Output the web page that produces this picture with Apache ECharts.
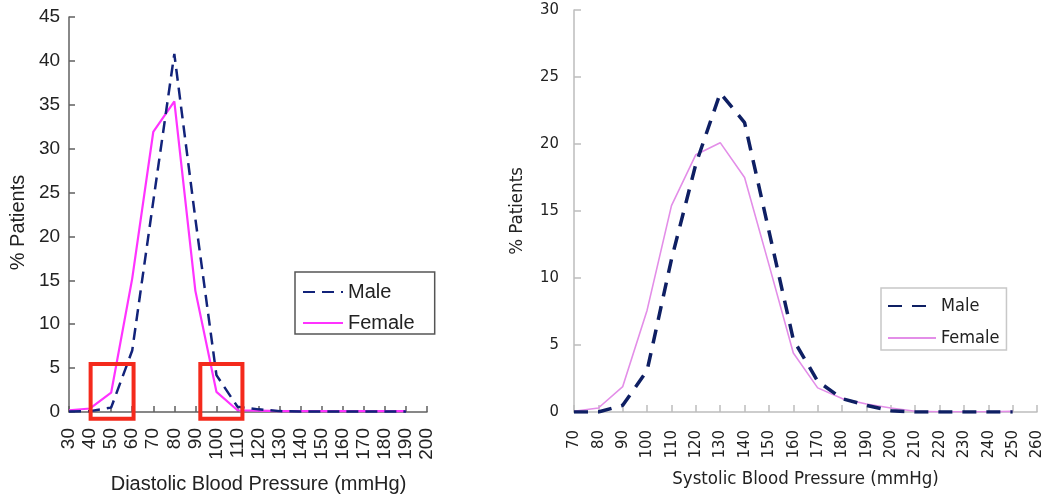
<!DOCTYPE html>
<html>
<head>
<meta charset="utf-8">
<script src="https://cdn.jsdelivr.net/npm/echarts@6/dist/echarts.min.js"></script>
<style>
html,body{margin:0;padding:0;background:#fff;}
#left{position:absolute;left:0;top:0;width:500px;height:499px;}
#right{position:absolute;left:500px;top:0;width:550px;height:499px;}
</style>
</head>
<body>
<div id="left"></div>
<div id="right"></div>
<script>
// ---- Diastolic (left) ----
const diaX = [30,40,50,60,70,80,90,100,110,120,130,140,150,160,170,180,190];
const diaMale = [0.05,0.1,0.5,7.0,24.0,40.8,22.0,4.2,0.6,0.3,0.1,0.05,0.05,0.05,0.05,0.05,0.05];
const diaFemale = [0.2,0.4,2.2,15.2,31.9,35.4,13.8,2.3,0.2,0.15,0.1,0.1,0.1,0.1,0.1,0.1,0.1];
const diaRedBoxes = [[39.3,61.6,-1.0,5.7],[91.4,113.3,-1.0,5.7]];

// ---- Systolic (right) ----
const sysX = [70,80,90,100,110,120,130,140,150,160,170,180,190,200,210,220,230,240,250];
const sysMale = [0,0,0.5,3.1,11.4,18.5,23.8,21.6,13.5,5.4,2.3,1.0,0.5,0.1,0,0,0,0,0];
const sysFemale = [0.05,0.3,1.9,7.6,15.4,19.2,20.1,17.5,11.0,4.4,1.8,1.0,0.6,0.3,0.05,0.02,0.02,0.02,0.05];

const seriesNames = ['Male','Female'];

function pairs(xs, ys){ return xs.map((x,i)=>[x, ys[i]]); }

const LF = '"Liberation Sans", Arial, sans-serif';
const RF = '"DejaVu Sans Condensed", "Liberation Sans Narrow", sans-serif';

// Left chart
const cl = echarts.init(document.getElementById('left'));
cl.setOption({
  animation:false,
  grid:{left:62, top:17, width:365, height:397},
  legend:{
    orient:'vertical', left:295, top:272,
    data:seriesNames,
    itemWidth:40, itemHeight:14, itemGap:11, itemTextGap:14,
    padding:[10,20,1,7],
    borderColor:'#555', borderWidth:1.5,
    itemStyle:{opacity:0},
    textStyle:{fontFamily:LF, fontSize:20, color:'#222'}
  },
  xAxis:{
    type:'value', min:30, max:200, interval:10,
    name:'Diastolic Blood Pressure (mmHg)', nameLocation:'middle', nameGap:62,
    nameTextStyle:{fontFamily:LF, fontSize:20, color:'#222', padding:[0,0,0,21]},
    axisLine:{lineStyle:{color:'#606060', width:1.5}},
    axisTick:{inside:true, length:6, lineStyle:{color:'#606060', width:1.5}},
    axisLabel:{rotate:90, margin:16, fontFamily:LF, fontSize:19, color:'#222'},
    splitLine:{show:false}
  },
  yAxis:{
    type:'value', min:0, max:45, interval:5,
    name:'% Patients', nameLocation:'middle', nameGap:40,
    nameTextStyle:{fontFamily:LF, fontSize:20, color:'#222', padding:[0,16,0,0]},
    axisLine:{show:true, lineStyle:{color:'#606060', width:1.5}},
    axisTick:{show:true, inside:true, length:6, lineStyle:{color:'#606060', width:1.5}},
    axisLabel:{margin:9, fontFamily:LF, fontSize:19, color:'#222'},
    splitLine:{show:false}
  },
  series:[
    {name:'Male', type:'line', data:pairs(diaX, diaMale), symbol:'none', z:3,
     lineStyle:{color:'#12237a', width:2.5, type:[12,7]}, itemStyle:{color:'#12237a'}},
    {name:'Female', type:'line', data:pairs(diaX, diaFemale), symbol:'none', z:2,
     lineStyle:{color:'#ff33ff', width:2.2}, itemStyle:{color:'#ff33ff'}}
  ]
});
const boxes = diaRedBoxes.map(b=>{
  const p1 = cl.convertToPixel({gridIndex:0},[b[0],b[3]]);
  const p2 = cl.convertToPixel({gridIndex:0},[b[1],b[2]]);
  return {type:'rect', z:10, silent:true,
    shape:{x:p1[0]+2, y:p1[1]+2, width:p2[0]-p1[0]-4, height:p2[1]-p1[1]-4},
    style:{fill:'none', stroke:'#f42a1c', lineWidth:4}};
});
cl.setOption({graphic:boxes});

// Right chart
const cr = echarts.init(document.getElementById('right'));
cr.setOption({
  animation:false,
  grid:{left:74, top:10, width:463, height:402},
  legend:{
    orient:'vertical', left:381, top:288,
    data:seriesNames,
    itemWidth:48, itemHeight:14, itemGap:14, itemTextGap:12,
    padding:[9,7,3,6],
    borderColor:'#c8c8c8', borderWidth:1.5,
    itemStyle:{opacity:0},
    textStyle:{fontFamily:RF, fontSize:18, color:'#222'}
  },
  xAxis:{
    type:'value', min:70, max:260, interval:10,
    name:'Systolic Blood Pressure (mmHg)', nameLocation:'middle', nameGap:58,
    nameTextStyle:{fontFamily:RF, fontSize:18.5, color:'#222'},
    axisLine:{lineStyle:{color:'#bdbdbd', width:1.5}},
    axisTick:{inside:true, length:7, lineStyle:{color:'#bdbdbd', width:1.5}},
    axisLabel:{rotate:90, margin:18, fontFamily:RF, fontSize:16.5, color:'#222'},
    splitLine:{show:false}
  },
  yAxis:{
    type:'value', min:0, max:30, interval:5,
    name:'% Patients', nameLocation:'middle', nameGap:47,
    nameTextStyle:{fontFamily:RF, fontSize:18.5, color:'#222'},
    axisLine:{show:true, lineStyle:{color:'#bdbdbd', width:1.5}},
    axisTick:{show:true, inside:true, length:7, lineStyle:{color:'#bdbdbd', width:1.5}},
    axisLabel:{margin:15, fontFamily:RF, fontSize:16.5, color:'#222'},
    splitLine:{show:false}
  },
  series:[
    {name:'Male', type:'line', data:pairs(sysX, sysMale), symbol:'none', z:3,
     lineStyle:{color:'#0e1f63', width:3.5, type:[14,10]}, itemStyle:{color:'#0e1f63'}},
    {name:'Female', type:'line', data:pairs(sysX, sysFemale), symbol:'none', z:2,
     lineStyle:{color:'#e38ee8', width:1.6}, itemStyle:{color:'#e38ee8'}}
  ]
});
</script>
</body>
</html>
